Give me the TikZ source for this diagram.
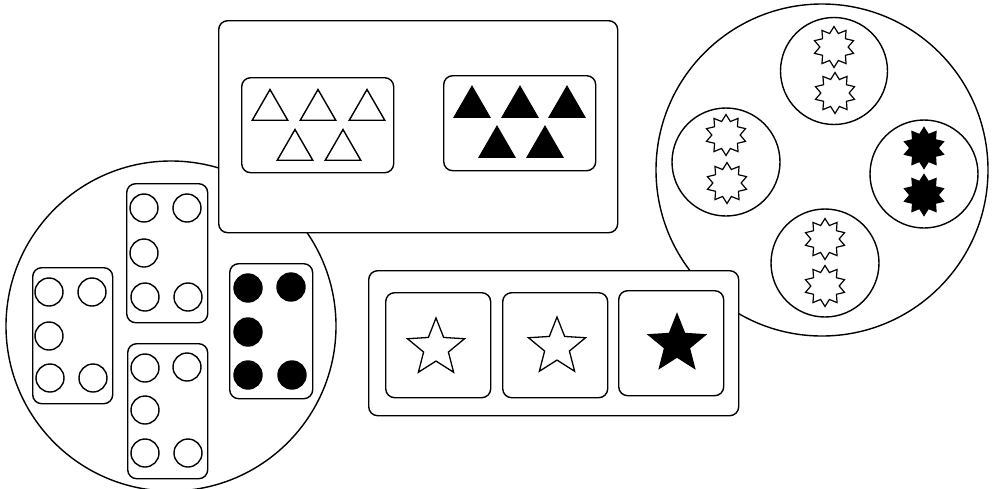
\documentclass[tikz,border=0pt]{standalone}
\usetikzlibrary{shapes.geometric}
\begin{document}
\begin{tikzpicture}[x=1pt,y=-1pt,line width=1.4pt,
  box/.style={draw,rounded corners=9pt,fill=white,anchor=north west,inner sep=0pt},
  ring/.style={draw,circle,inner sep=0pt,fill=white},
  dot/.style={draw,circle,inner sep=0pt,minimum size=28pt},
  tri/.style={draw,regular polygon,regular polygon sides=3,inner sep=0pt,minimum size=41pt,line width=1.4pt},
  fstar/.style={draw,star,star points=5,star point ratio=2.3,inner sep=0pt,minimum size=60pt,line width=1.3pt},
  sun/.style={draw,star,star points=10,star point ratio=1.45,inner sep=0pt,minimum size=41pt,line width=1.2pt}]
\useasboundingbox (0,0) rectangle (993,488);
% big circles
\node[ring,minimum size=330pt] (lc) at (171,326) {};
\node[ring,minimum size=332pt] (rc) at (822,170) {};
% top rectangle with triangles
\node[box,minimum width=399pt,minimum height=212pt] (top) at (218,20) {};
\node[box,minimum width=152pt,minimum height=95pt] (tl) at (241,77) {};
\node[box,minimum width=152pt,minimum height=95pt] (tr) at (443,75) {};
\node[tri] (w1) at (270,110) {};
\node[tri] (w2) at (318,110) {};
\node[tri] (w3) at (367,110) {};
\node[tri] (w4) at (295,150) {};
\node[tri] (w5) at (343,150) {};
\node[tri,fill=black] (b1) at (472,107) {};
\node[tri,fill=black] (b2) at (520,107) {};
\node[tri,fill=black] (b3) at (567,107) {};
\node[tri,fill=black] (b4) at (497,147) {};
\node[tri,fill=black] (b5) at (545,147) {};
% dominoes in left circle
\node[box,minimum width=80pt,minimum height=136pt] (da) at (32,267) {};
\node[dot] (a1) at (49,292) {};
\node[dot] (a2) at (92,292) {};
\node[dot] (a3) at (49,336) {};
\node[dot] (a4) at (50,378) {};
\node[dot] (a5) at (93,378) {};
\node[box,minimum width=81pt,minimum height=139pt] (db) at (126,183) {};
\node[dot] (b1c) at (144,208) {};
\node[dot] (b2c) at (187,208) {};
\node[dot] (b3c) at (144,253) {};
\node[dot] (b4c) at (145,297) {};
\node[dot] (b5c) at (188,297) {};
\node[box,minimum width=80pt,minimum height=135pt] (dc) at (127,343) {};
\node[dot] (c1) at (145,368) {};
\node[dot] (c2) at (187,367) {};
\node[dot] (c3) at (145,410) {};
\node[dot] (c4) at (145,453) {};
\node[dot] (c5) at (188,453) {};
\node[box,minimum width=83pt,minimum height=135pt] (dd) at (229,263) {};
\node[dot,fill=black] (d1) at (248,288) {};
\node[dot,fill=black] (d2) at (291,287) {};
\node[dot,fill=black] (d3) at (248,332) {};
\node[dot,fill=black] (d4) at (248,375) {};
\node[dot,fill=black] (d5) at (292,375) {};
% bottom rectangle with stars
\node[box,minimum width=370pt,minimum height=145pt] (bot) at (368,270) {};
\node[box,minimum width=105pt,minimum height=105pt] (s1b) at (385,292) {};
\node[box,minimum width=105pt,minimum height=105pt] (s2b) at (502,292) {};
\node[box,minimum width=105pt,minimum height=105pt] (s3b) at (618,290) {};
\node[fstar] (s1) at (436,348) {};
\node[fstar] (s2) at (557,347) {};
\node[fstar,fill=black] (s3) at (677,344) {};
% circles with suns in right circle
\node[ring,minimum size=107pt] (ct) at (834,71) {};
\node[ring,minimum size=108pt] (cl) at (726,162) {};
\node[ring,minimum size=108pt] (cr) at (924,174) {};
\node[ring,minimum size=108pt] (cb) at (825,263) {};
\node[sun] (t1) at (834,47) {};
\node[sun] (t2) at (835,93) {};
\node[sun] (l1) at (726,135) {};
\node[sun] (l2) at (727,183) {};
\node[sun,fill=black] (r1) at (924,148) {};
\node[sun,fill=black] (r2) at (924,195) {};
\node[sun] (u1) at (825,239) {};
\node[sun] (u2) at (825,286) {};
\end{tikzpicture}
\end{document}
